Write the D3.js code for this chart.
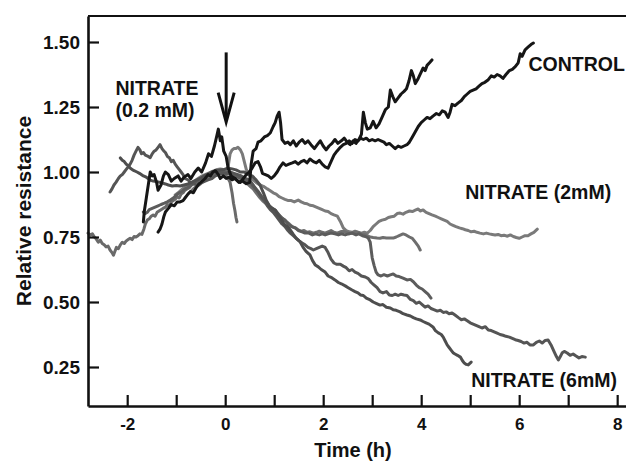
<!DOCTYPE html>
<html><head><meta charset="utf-8">
<script src="https://cdn.jsdelivr.net/npm/d3@7"></script>
<style>
html,body{margin:0;padding:0;background:#fff;}
svg text{font-family:"Liberation Sans",Arial,Helvetica,sans-serif;font-weight:bold;fill:#111;}
</style></head>
<body><svg id="chart" width="626" height="462"></svg>
<script>
// ---- data: [time (h), relative resistance] ----
const controlShort = [[-1.67,0.808],[-1.65,0.85],[-1.61,0.90],[-1.57,0.95],[-1.53,1.00],[-1.49,0.985],[-1.45,0.99],[-1.40,0.96],[-1.37,0.93],[-1.31,0.95],[-1.26,0.985],[-1.22,1.00],[-1.16,0.99],[-1.10,0.965],[-1.04,0.975],[-0.96,0.985],[-0.90,0.965],[-0.84,0.98],[-0.76,0.99],[-0.70,0.975],[-0.62,1.00],[-0.55,1.015],[-0.48,1.00],[-0.40,1.035],[-0.34,1.07],[-0.28,1.06],[-0.22,1.10],[-0.17,1.14],[-0.14,1.165],[-0.10,1.12],[-0.07,1.135],[-0.03,1.08],[0.02,1.06],[0.06,1.015],[0.12,0.985],[0.20,0.975],[0.28,0.96],[0.35,0.965],[0.43,0.955],[0.50,0.96],[0.53,1.03],[0.57,1.08],[0.63,1.09],[0.67,1.115],[0.73,1.12],[0.80,1.135],[0.86,1.14],[0.92,1.15],[0.98,1.175],[1.02,1.19],[1.06,1.215],[1.10,1.23],[1.13,1.19],[1.16,1.125],[1.22,1.11],[1.28,1.115],[1.33,1.105],[1.39,1.12],[1.45,1.10],[1.51,1.115],[1.57,1.125],[1.63,1.11],[1.69,1.12],[1.75,1.105],[1.82,1.09],[1.88,1.105],[1.94,1.12],[2.00,1.10],[2.06,1.085],[2.12,1.10],[2.18,1.11],[2.24,1.125],[2.30,1.11],[2.37,1.12],[2.43,1.13],[2.49,1.115],[2.55,1.105],[2.61,1.12],[2.67,1.11],[2.73,1.125],[2.78,1.145],[2.82,1.23],[2.86,1.19],[2.90,1.165],[2.96,1.17],[3.02,1.195],[3.08,1.17],[3.14,1.185],[3.20,1.21],[3.27,1.24],[3.33,1.25],[3.37,1.315],[3.42,1.29],[3.47,1.27],[3.53,1.285],[3.59,1.30],[3.65,1.31],[3.70,1.32],[3.75,1.35],[3.80,1.39],[3.84,1.37],[3.88,1.34],[3.94,1.36],[3.99,1.38],[4.04,1.40],[4.08,1.39],[4.12,1.41],[4.17,1.42],[4.22,1.431]];

const controlLong = [[-1.37,0.769],[-1.33,0.78],[-1.29,0.80],[-1.25,0.83],[-1.22,0.846],[-1.16,0.86],[-1.10,0.875],[-1.04,0.87],[-0.98,0.885],[-0.92,0.885],[-0.86,0.89],[-0.82,0.90],[-0.76,0.915],[-0.71,0.925],[-0.65,0.92],[-0.59,0.94],[-0.53,0.955],[-0.47,0.965],[-0.41,0.975],[-0.35,0.99],[-0.30,0.985],[-0.25,1.00],[-0.20,1.005],[-0.14,0.99],[-0.10,0.975],[-0.04,0.985],[0.02,0.975],[0.08,0.98],[0.14,0.97],[0.20,0.975],[0.26,0.965],[0.31,0.96],[0.37,0.975],[0.43,0.99],[0.49,1.00],[0.55,1.015],[0.61,1.035],[0.67,1.04],[0.72,1.02],[0.76,0.995],[0.82,0.99],[0.88,0.985],[0.94,0.975],[1.00,0.985],[1.06,1.00],[1.12,1.02],[1.18,1.035],[1.24,1.025],[1.30,1.03],[1.37,1.035],[1.43,1.04],[1.49,1.03],[1.55,1.04],[1.61,1.045],[1.67,1.035],[1.73,1.05],[1.80,1.04],[1.86,1.035],[1.92,1.045],[1.98,1.03],[2.04,1.02],[2.10,1.015],[2.16,1.04],[2.22,1.065],[2.28,1.08],[2.35,1.095],[2.41,1.105],[2.47,1.11],[2.53,1.12],[2.59,1.11],[2.65,1.125],[2.71,1.12],[2.76,1.13],[2.82,1.125],[2.88,1.13],[2.94,1.12],[3.00,1.125],[3.06,1.12],[3.12,1.125],[3.18,1.12],[3.24,1.115],[3.29,1.105],[3.35,1.11],[3.41,1.10],[3.47,1.09],[3.53,1.10],[3.59,1.095],[3.65,1.10],[3.71,1.105],[3.76,1.115],[3.82,1.135],[3.88,1.155],[3.94,1.175],[4.00,1.19],[4.06,1.20],[4.12,1.21],[4.18,1.205],[4.24,1.215],[4.31,1.225],[4.37,1.22],[4.43,1.235],[4.49,1.23],[4.55,1.21],[4.59,1.23],[4.63,1.26],[4.69,1.255],[4.75,1.265],[4.82,1.275],[4.88,1.29],[4.94,1.30],[5.00,1.31],[5.06,1.315],[5.12,1.32],[5.18,1.33],[5.24,1.34],[5.30,1.345],[5.37,1.355],[5.43,1.37],[5.49,1.365],[5.55,1.375],[5.61,1.37],[5.67,1.36],[5.73,1.375],[5.80,1.39],[5.86,1.395],[5.92,1.405],[5.98,1.42],[6.02,1.455],[6.06,1.445],[6.12,1.47],[6.18,1.48],[6.24,1.49],[6.29,1.496]];

const nitrateEarly = [[-2.80,0.765],[-2.75,0.758],[-2.71,0.762],[-2.67,0.75],[-2.63,0.742],[-2.59,0.73],[-2.55,0.738],[-2.51,0.725],[-2.47,0.72],[-2.43,0.712],[-2.39,0.715],[-2.35,0.70],[-2.31,0.69],[-2.28,0.68],[-2.25,0.695],[-2.22,0.71],[-2.18,0.705],[-2.14,0.72],[-2.10,0.73],[-2.06,0.725],[-2.02,0.735],[-1.98,0.74],[-1.94,0.745],[-1.90,0.74],[-1.86,0.752],[-1.82,0.75],[-1.78,0.755],[-1.74,0.762],[-1.70,0.76],[-1.66,0.78],[-1.63,0.80],[-1.59,0.815],[-1.55,0.82],[-1.51,0.83],[-1.47,0.835],[-1.43,0.83],[-1.39,0.845],[-1.35,0.85],[-1.31,0.855],[-1.27,0.86],[-1.22,0.865],[-1.18,0.875],[-1.14,0.87],[-1.10,0.885],[-1.06,0.89],[-1.02,0.895],[-0.98,0.905],[-0.94,0.90],[-0.90,0.915],[-0.86,0.92],[-0.82,0.93],[-0.78,0.935],[-0.73,0.94],[-0.69,0.95],[-0.65,0.955],[-0.61,0.96],[-0.57,0.965],[-0.53,0.97],[-0.49,0.975],[-0.45,0.98],[-0.41,0.985],[-0.35,0.99],[-0.29,0.995],[-0.23,1.0],[-0.17,1.0],[-0.11,1.005],[-0.06,0.995],[0.0,0.99],[0.06,0.975],[0.10,0.96],[0.14,0.92],[0.17,0.88],[0.20,0.85],[0.22,0.825],[0.24,0.808]];

const nitrate6a = [[-2.35,0.923],[-2.31,0.935],[-2.27,0.95],[-2.23,0.96],[-2.18,0.975],[-2.14,0.985],[-2.10,0.99],[-2.06,1.0],[-2.02,1.01],[-1.98,1.02],[-1.94,1.03],[-1.90,1.045],[-1.86,1.065],[-1.82,1.08],[-1.78,1.095],[-1.74,1.085],[-1.71,1.07],[-1.67,1.075],[-1.63,1.065],[-1.57,1.06],[-1.53,1.055],[-1.49,1.07],[-1.45,1.08],[-1.41,1.085],[-1.37,1.095],[-1.33,1.105],[-1.29,1.09],[-1.25,1.08],[-1.22,1.075],[-1.18,1.06],[-1.14,1.055],[-1.10,1.04],[-1.06,1.045],[-1.02,1.03],[-0.98,1.02],[-0.94,1.01],[-0.90,1.0],[-0.86,0.99],[-0.82,0.975],[-0.76,0.97],[-0.71,0.96],[-0.65,0.955],[-0.59,0.95],[-0.53,0.955],[-0.47,0.96],[-0.41,0.965],[-0.35,0.97],[-0.27,0.975],[-0.20,0.985],[-0.14,0.99],[-0.06,0.995],[0.02,0.995],[0.10,1.0],[0.18,0.995],[0.26,0.99],[0.33,0.985],[0.41,0.975],[0.49,0.97],[0.55,0.955],[0.61,0.94],[0.67,0.925],[0.73,0.905],[0.80,0.89],[0.86,0.87],[0.92,0.855],[0.98,0.845],[1.04,0.83],[1.10,0.815],[1.16,0.80],[1.22,0.79],[1.28,0.775],[1.33,0.765],[1.39,0.755],[1.45,0.745],[1.51,0.735],[1.57,0.727],[1.63,0.72],[1.69,0.71],[1.75,0.705],[1.80,0.70],[1.86,0.705],[1.92,0.71],[1.98,0.715],[2.04,0.71],[2.10,0.69],[2.16,0.665],[2.22,0.65],[2.28,0.645],[2.35,0.645],[2.41,0.638],[2.47,0.632],[2.53,0.62],[2.59,0.625],[2.65,0.615],[2.71,0.61],[2.78,0.60],[2.86,0.596],[2.92,0.59],[2.98,0.575],[3.04,0.565],[3.10,0.555],[3.16,0.54],[3.22,0.535],[3.29,0.54],[3.35,0.527],[3.41,0.525],[3.47,0.53],[3.53,0.525],[3.59,0.53],[3.65,0.527],[3.71,0.525],[3.78,0.51],[3.84,0.505],[3.90,0.495],[3.96,0.50],[4.02,0.49],[4.08,0.48],[4.14,0.485],[4.20,0.475],[4.27,0.47],[4.33,0.465],[4.39,0.468],[4.45,0.46],[4.51,0.462],[4.57,0.455],[4.63,0.458],[4.69,0.45],[4.76,0.44],[4.82,0.432],[4.88,0.435],[4.94,0.428],[5.00,0.42],[5.06,0.415],[5.12,0.41],[5.18,0.405],[5.24,0.40],[5.31,0.405],[5.37,0.392],[5.43,0.39],[5.49,0.385],[5.55,0.38],[5.61,0.375],[5.67,0.372],[5.73,0.368],[5.80,0.365],[5.86,0.36],[5.92,0.355],[5.98,0.352],[6.04,0.348],[6.10,0.342],[6.16,0.345],[6.22,0.335],[6.29,0.335],[6.35,0.345],[6.41,0.35],[6.47,0.342],[6.53,0.352],[6.59,0.354],[6.65,0.335],[6.71,0.31],[6.76,0.29],[6.80,0.277],[6.84,0.29],[6.88,0.305],[6.92,0.31],[6.98,0.304],[7.04,0.295],[7.10,0.30],[7.16,0.292],[7.22,0.285],[7.28,0.29],[7.35,0.288]];

const nitrate6b = [[-2.14,1.054],[-2.10,1.045],[-2.06,1.04],[-2.02,1.03],[-1.98,1.025],[-1.94,1.015],[-1.90,1.01],[-1.86,1.005],[-1.80,1.0],[-1.75,0.995],[-1.67,0.985],[-1.61,0.98],[-1.53,0.969],[-1.47,0.965],[-1.37,0.962],[-1.29,0.958],[-1.22,0.954],[-1.16,0.95],[-1.08,0.946],[-1.00,0.948],[-0.92,0.946],[-0.84,0.95],[-0.76,0.954],[-0.67,0.962],[-0.59,0.969],[-0.51,0.975],[-0.43,0.985],[-0.35,0.992],[-0.27,1.0],[-0.18,1.005],[-0.10,1.008],[-0.02,1.01],[0.06,1.015],[0.14,1.012],[0.22,1.008],[0.31,1.0],[0.39,1.0],[0.47,0.99],[0.55,0.985],[0.63,0.97],[0.71,0.95],[0.78,0.92],[0.84,0.89],[0.90,0.87],[0.96,0.86],[1.02,0.854],[1.08,0.835],[1.14,0.82],[1.20,0.80],[1.27,0.79],[1.33,0.777],[1.39,0.76],[1.45,0.745],[1.53,0.731],[1.59,0.71],[1.65,0.695],[1.73,0.681],[1.78,0.66],[1.84,0.642],[1.90,0.635],[1.96,0.625],[2.04,0.615],[2.10,0.60],[2.16,0.595],[2.24,0.585],[2.31,0.575],[2.37,0.57],[2.45,0.562],[2.51,0.555],[2.59,0.546],[2.65,0.54],[2.71,0.535],[2.76,0.527],[2.82,0.525],[2.88,0.515],[2.96,0.508],[3.02,0.50],[3.08,0.495],[3.16,0.488],[3.22,0.49],[3.29,0.48],[3.37,0.477],[3.43,0.47],[3.49,0.468],[3.57,0.462],[3.63,0.455],[3.71,0.45],[3.78,0.446],[3.84,0.44],[3.90,0.435],[3.98,0.431],[4.04,0.425],[4.10,0.42],[4.16,0.415],[4.24,0.404],[4.29,0.39],[4.35,0.381],[4.41,0.375],[4.45,0.365],[4.49,0.35],[4.53,0.335],[4.57,0.325],[4.61,0.315],[4.65,0.305],[4.69,0.30],[4.74,0.295],[4.80,0.288],[4.84,0.275],[4.88,0.265],[4.92,0.26],[4.96,0.258],[5.02,0.269]];

const nitrate6c = [[-1.67,0.846],[-1.63,0.84],[-1.59,0.845],[-1.55,0.855],[-1.49,0.86],[-1.43,0.865],[-1.37,0.87],[-1.31,0.875],[-1.24,0.88],[-1.18,0.885],[-1.12,0.892],[-1.06,0.90],[-1.00,0.91],[-0.94,0.92],[-0.88,0.925],[-0.82,0.935],[-0.76,0.94],[-0.69,0.95],[-0.63,0.958],[-0.57,0.965],[-0.51,0.975],[-0.45,0.98],[-0.39,0.985],[-0.33,0.99],[-0.27,0.995],[-0.20,0.998],[-0.12,1.0],[-0.04,1.0],[0.04,0.995],[0.12,0.99],[0.20,0.985],[0.27,0.98],[0.35,0.975],[0.43,0.968],[0.51,0.96],[0.59,0.94],[0.67,0.925],[0.75,0.905],[0.82,0.892],[0.90,0.87],[0.96,0.86],[1.02,0.854],[1.08,0.84],[1.14,0.825],[1.22,0.815],[1.29,0.80],[1.35,0.79],[1.43,0.785],[1.49,0.775],[1.57,0.77],[1.63,0.765],[1.71,0.765],[1.78,0.758],[1.84,0.762],[1.92,0.758],[1.98,0.762],[2.04,0.758],[2.10,0.762],[2.16,0.765],[2.24,0.762],[2.31,0.758],[2.37,0.762],[2.45,0.758],[2.51,0.762],[2.59,0.765],[2.67,0.758],[2.73,0.762],[2.80,0.755],[2.86,0.752],[2.92,0.746],[2.96,0.73],[2.98,0.70],[3.00,0.67],[3.04,0.64],[3.08,0.615],[3.12,0.604],[3.18,0.60],[3.24,0.605],[3.31,0.60],[3.37,0.604],[3.43,0.608],[3.49,0.60],[3.55,0.598],[3.63,0.592],[3.71,0.585],[3.78,0.587],[3.84,0.578],[3.90,0.565],[3.96,0.555],[4.02,0.55],[4.08,0.54],[4.14,0.53],[4.20,0.515]];

const nitrate2a = [[-1.02,0.912],[-0.96,0.92],[-0.90,0.93],[-0.84,0.94],[-0.78,0.945],[-0.71,0.955],[-0.65,0.96],[-0.59,0.97],[-0.53,0.978],[-0.47,0.985],[-0.41,0.99],[-0.35,0.995],[-0.29,1.0],[-0.22,1.005],[-0.16,1.01],[-0.10,1.012],[-0.04,1.01],[0.02,1.008],[0.06,1.02],[0.10,1.07],[0.14,1.085],[0.18,1.09],[0.22,1.09],[0.26,1.095],[0.31,1.085],[0.35,1.07],[0.39,1.04],[0.43,1.01],[0.47,0.995],[0.51,0.985],[0.57,0.97],[0.63,0.96],[0.71,0.95],[0.78,0.945],[0.86,0.935],[0.92,0.928],[0.98,0.92],[1.04,0.915],[1.10,0.905],[1.16,0.90],[1.22,0.895],[1.29,0.89],[1.35,0.89],[1.41,0.885],[1.49,0.892],[1.55,0.885],[1.61,0.88],[1.67,0.878],[1.73,0.872],[1.80,0.87],[1.86,0.865],[1.92,0.86],[1.98,0.855],[2.04,0.85],[2.10,0.848],[2.16,0.84],[2.22,0.835],[2.29,0.83],[2.35,0.81],[2.41,0.785],[2.47,0.775],[2.53,0.77],[2.59,0.768],[2.65,0.772],[2.71,0.768],[2.78,0.765],[2.84,0.768],[2.90,0.765],[2.96,0.775],[3.02,0.79],[3.08,0.80],[3.14,0.81],[3.20,0.815],[3.27,0.818],[3.33,0.825],[3.39,0.828],[3.45,0.83],[3.51,0.84],[3.57,0.842],[3.63,0.838],[3.69,0.845],[3.76,0.85],[3.82,0.848],[3.88,0.853],[3.94,0.858],[3.98,0.85],[4.04,0.854],[4.10,0.845],[4.16,0.84],[4.22,0.835],[4.29,0.83],[4.35,0.825],[4.41,0.82],[4.47,0.815],[4.53,0.81],[4.59,0.80],[4.65,0.795],[4.71,0.79],[4.78,0.785],[4.84,0.782],[4.90,0.778],[4.96,0.775],[5.02,0.77],[5.08,0.772],[5.14,0.768],[5.20,0.765],[5.27,0.762],[5.33,0.765],[5.39,0.762],[5.45,0.76],[5.51,0.758],[5.57,0.76],[5.63,0.755],[5.69,0.757],[5.76,0.753],[5.82,0.758],[5.88,0.752],[5.94,0.748],[6.00,0.745],[6.06,0.75],[6.12,0.755],[6.18,0.755],[6.24,0.762],[6.30,0.768],[6.37,0.78]];

const nitrate2b = [[-0.71,0.923],[-0.65,0.935],[-0.59,0.945],[-0.53,0.95],[-0.47,0.96],[-0.41,0.968],[-0.35,0.975],[-0.29,0.985],[-0.22,0.99],[-0.16,0.995],[-0.10,1.0],[-0.04,1.005],[0.02,1.0],[0.08,0.995],[0.14,0.99],[0.20,0.985],[0.27,0.98],[0.33,0.972],[0.39,0.965],[0.45,0.955],[0.51,0.945],[0.57,0.935],[0.63,0.92],[0.69,0.905],[0.76,0.89],[0.82,0.88],[0.88,0.87],[0.94,0.86],[1.00,0.85],[1.06,0.84],[1.12,0.83],[1.18,0.82],[1.24,0.81],[1.31,0.80],[1.37,0.79],[1.43,0.785],[1.49,0.778],[1.55,0.772],[1.61,0.775],[1.67,0.768],[1.73,0.77],[1.80,0.765],[1.86,0.768],[1.92,0.772],[1.98,0.768],[2.04,0.765],[2.10,0.77],[2.16,0.775],[2.22,0.768],[2.29,0.765],[2.35,0.77],[2.41,0.772],[2.47,0.768],[2.53,0.762],[2.59,0.765],[2.65,0.77],[2.71,0.768],[2.78,0.762],[2.84,0.76],[2.90,0.755],[2.96,0.75],[3.02,0.748],[3.10,0.746],[3.16,0.745],[3.22,0.748],[3.29,0.746],[3.37,0.746],[3.43,0.746],[3.49,0.75],[3.55,0.755],[3.63,0.762],[3.69,0.758],[3.76,0.75],[3.82,0.745],[3.88,0.73],[3.94,0.715],[3.98,0.70]];

const xTicks = [-2,-1,0,1,2,3,4,5,6,7,8];
const yTicks = [0.25,0.50,0.75,1.00,1.25,1.50];
const labels = {
  nitrateLow: ["NITRATE","(0.2 mM)"],
  control: "CONTROL",
  nitrateMid: "NITRATE  (2mM)",
  nitrateHigh: "NITRATE (6mM)"
};

const series = [
  {data: nitrateEarly, color: "#6a6a6a"},
  {data: nitrate2a, color: "#7a7a7a"},
  {data: nitrate2b, color: "#6e6e6e"},
  {data: nitrate6c, color: "#5c5c5c"},
  {data: nitrate6a, color: "#555555"},
  {data: nitrate6b, color: "#4e4e4e"},
  {data: controlLong, color: "#161616"},
  {data: controlShort, color: "#161616"}
];

// ---- layout ----
const svg = d3.select("#chart");
const mLeft = 88, mRight = 626, mTop = 16, mBottom = 406;
const x = d3.scaleLinear().domain([-2.8, 8.18]).range([mLeft, mRight]);
const y = d3.scaleLinear().domain([0.10, 1.60]).range([mBottom, mTop]);

// data lines
const line = d3.line().x(d => x(d[0])).y(d => y(d[1]));
svg.append("g").selectAll("path").data(series).join("path")
  .attr("d", d => line(d.data))
  .attr("fill", "none")
  .attr("stroke", d => d.color)
  .attr("stroke-width", 3)
  .attr("stroke-linejoin", "round")
  .attr("stroke-linecap", "round");

// axes
const yAxis = d3.axisLeft(y).tickValues(yTicks).tickFormat(d3.format(".2f"))
  .tickSizeInner(-11).tickSizeOuter(0).tickPadding(8);
const gy = svg.append("g").attr("transform", `translate(${mLeft},0)`).call(yAxis);
const xAxis = d3.axisBottom(x).tickValues(xTicks)
  .tickFormat(d => d % 2 === 0 ? String(d) : "")
  .tickSizeInner(-11).tickSizeOuter(0).tickPadding(12);
const gx = svg.append("g").attr("transform", `translate(0,${mBottom})`).call(xAxis);

[gy, gx].forEach(g => {
  g.select(".domain").attr("stroke", "#111").attr("stroke-width", 2.6);
  g.selectAll(".tick line").attr("stroke", "#111").attr("stroke-width", 2.2);
  g.selectAll("text").attr("fill", "#111").style("font-family", '"Liberation Sans",Arial,sans-serif').style("font-weight", "bold");
});
gy.selectAll("text").style("font-size", "19px");
gx.selectAll("text").style("font-size", "17px");

// top frame line
svg.append("line").attr("x1", mLeft).attr("x2", mRight).attr("y1", mTop).attr("y2", mTop)
  .attr("stroke", "#111").attr("stroke-width", 2.2);

// axis titles
svg.append("text").attr("x", (mLeft + mRight) / 2 - 4).attr("y", 457)
  .attr("text-anchor", "middle").style("font-size", "20px").text("Time (h)");
svg.append("text").attr("transform", `translate(31,${(mTop + mBottom) / 2}) rotate(-90)`)
  .attr("text-anchor", "middle").style("font-size", "21px").text("Relative resistance");

// annotations
const ann = svg.append("g").style("font-size", "19.5px");
ann.append("text").attr("x", x(-2.24)).attr("y", y(1.295)).text(labels.nitrateLow[0]);
ann.append("text").attr("x", x(-2.24)).attr("y", y(1.21)).text(labels.nitrateLow[1]);
ann.append("text").attr("x", x(6.19)).attr("y", y(1.39)).text(labels.control);
ann.append("text").attr("x", x(4.9)).attr("y", y(0.895)).text(labels.nitrateMid);
ann.append("text").attr("x", x(5.02)).attr("y", y(0.173)).text(labels.nitrateHigh);

// arrow at t = 0
const ax = x(0.02);
svg.append("line").attr("x1", ax).attr("x2", ax).attr("y1", y(1.46)).attr("y2", y(1.20))
  .attr("stroke", "#111").attr("stroke-width", 3);
svg.append("path")
  .attr("d", `M${ax - 8},${y(1.305)} L${ax},${y(1.192)} L${ax + 8},${y(1.305)}`)
  .attr("fill", "none").attr("stroke", "#111").attr("stroke-width", 3)
  .attr("stroke-linejoin", "miter");
</script></body></html>
